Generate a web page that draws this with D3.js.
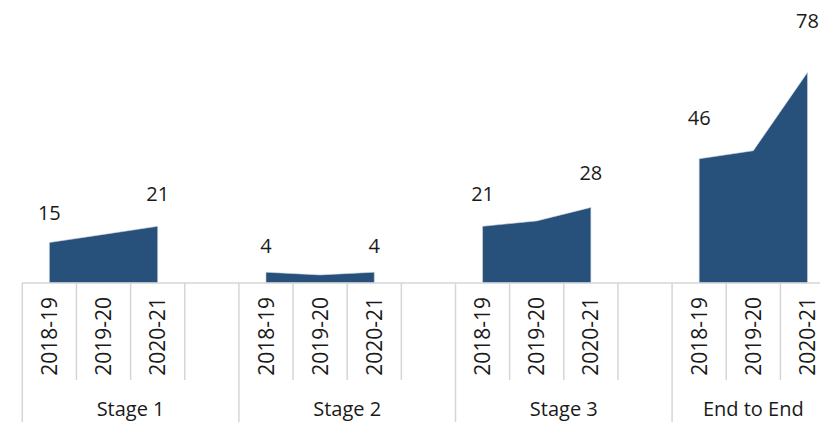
<!DOCTYPE html>
<html>
<head>
<meta charset="utf-8">
<script src="https://cdn.jsdelivr.net/npm/d3@7"></script>
<style>
  html, body { margin: 0; padding: 0; background: #fff; overflow: hidden; }
  svg { display: block; }
  text { font-family: "Open Sans", "Noto Sans", sans-serif; fill: #1a1a1a; }
</style>
</head>
<body>
<svg id="chart" width="820" height="422"></svg>
<script>
// Stages and financial years
const groups = ["Stage 1", "Stage 2", "Stage 3", "End to End"];
const years = ["2018-19", "2019-20", "2020-21"];

// Values per stage, one per financial year
const stage1 = [15, 18, 21];
const stage2 = [4, 3, 4];
const stage3 = [21, 23, 28];
const endToEnd = [46, 49, 78];
const seriesValues = [stage1, stage2, stage3, endToEnd];

const svg = d3.select("#chart");
const W = 820, H = 422;
const left = 22.3, slotW = 54.15;
const baseY = 283;

// Every slot along the category axis: three years per stage,
// with a spacer slot between consecutive stages
const slots = [];
groups.forEach((g, gi) => {
  years.forEach((yr, yi) => slots.push({ id: gi + "-" + yi, group: gi, year: yr }));
  if (gi < groups.length - 1) slots.push({ id: gi + "-gap", group: gi, year: "" });
});

const x = d3.scaleBand()
  .domain(slots.map(s => s.id))
  .range([left, left + slots.length * slotW])
  .padding(0);

const y = d3.scaleLinear().domain([0, 80]).range([baseY, baseY - 80 * 2.7]);

const cx = (gi, yi) => x(gi + "-" + yi) + x.bandwidth() / 2;

// Filled areas, one per stage
const area = d3.area()
  .x(d => cx(d.g, d.i))
  .y0(y(0))
  .y1(d => y(d.v));

seriesValues.forEach((vals, gi) => {
  const pts = vals.map((v, i) => ({ g: gi, i, v }));
  svg.append("path")
    .datum(pts)
    .attr("d", area)
    .attr("fill", "#27507b")
    .attr("stroke", "#c9d3df")
    .attr("stroke-width", 0.6);
});

// Category axis with rotated year labels
const axis = d3.axisBottom(x)
  .tickSize(0)
  .tickFormat(id => slots.find(s => s.id === id).year);

const axG = svg.append("g").attr("transform", `translate(0,${baseY})`).call(axis);
axG.select(".domain").remove();
axG.selectAll(".tick text")
  .attr("transform", "rotate(-90)")
  .attr("x", -14)
  .attr("y", 0)
  .attr("dy", "0.36em")
  .attr("text-anchor", "end")
  .style("font-family", "'Open Sans', sans-serif")
  .style("font-size", "21px")
  .attr("fill", "#1a1a1a");

const axisEnd = left + slots.length * slotW;

// Axis baseline
svg.append("line")
  .attr("x1", left).attr("x2", axisEnd)
  .attr("y1", baseY).attr("y2", baseY)
  .attr("stroke", "#d6d6d6").attr("stroke-width", 1.5);

// Slot dividers: short between years, full height at stage edges
const groupEdges = new Set([0, slots.length]);
slots.forEach((s, k) => { if (s.year === "") groupEdges.add(k + 1); });
d3.range(slots.length + 1).forEach(k => {
  const xx = left + k * slotW;
  svg.append("line")
    .attr("x1", xx).attr("x2", xx)
    .attr("y1", baseY).attr("y2", groupEdges.has(k) ? H : 380)
    .attr("stroke", "#d6d6d6").attr("stroke-width", 1.5);
});

// Stage names beneath the year labels
groups.forEach((g, gi) => {
  const x0 = x(gi + "-0");
  const lastId = gi < groups.length - 1 ? gi + "-gap" : gi + "-" + (years.length - 1);
  const x1 = x(lastId) + x.bandwidth();
  svg.append("text")
    .attr("x", (x0 + x1) / 2)
    .attr("y", 416)
    .attr("text-anchor", "middle")
    .style("font-size", "20px")
    .text(g);
});

// Value labels on the first and last year of each stage
seriesValues.forEach((vals, gi) => {
  [0, vals.length - 1].forEach(i => {
    const v = vals[i];
    svg.append("text")
      .attr("x", cx(gi, i))
      .attr("y", y(v) - (18 + v / 3))
      .attr("text-anchor", "middle")
      .style("font-size", "20px")
      .text(v);
  });
});
</script>
</body>
</html>
